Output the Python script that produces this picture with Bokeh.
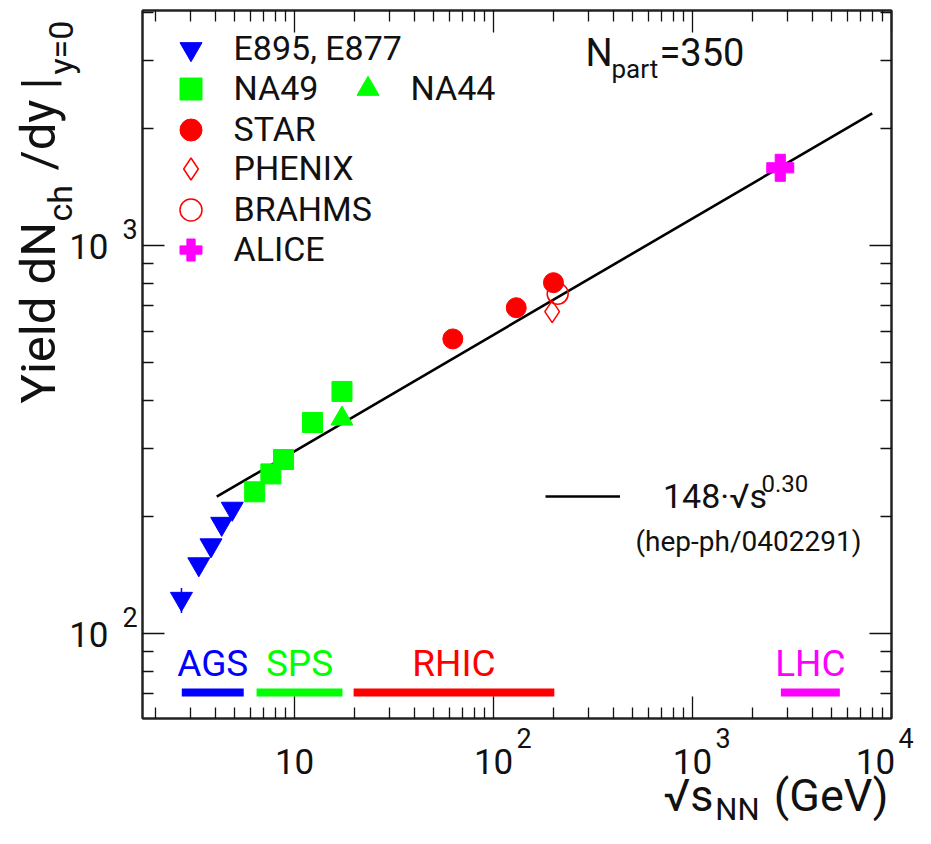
import math
from bokeh.plotting import figure
from bokeh.layouts import row, column
from bokeh.models import (Range1d, FixedTicker, LogAxis, Label, Legend, LegendItem,
                          CustomJSTickFormatter)
from bokeh.embed import file_html
from bokeh.resources import INLINE

# ---------------- data ----------------
e895_sqrt_s = [2.7, 3.3, 3.8, 4.3, 4.86]
e895_yield = [123, 151, 169, 192, 210]
e895_err_x = [2.7]
e895_err_lo = [113]
e895_err_hi = [131]

na49_sqrt_s = [6.3, 7.6, 8.8, 12.3, 17.3]
na49_yield = [232, 258, 281, 350, 421]

na44_sqrt_s = [17.3]
na44_yield = [358]

star_sqrt_s = [62.4, 130, 200]
star_yield = [575, 692, 803]

phenix_sqrt_s = [197]
phenix_yield = [676]

brahms_sqrt_s = [210]
brahms_yield = [752]

alice_sqrt_s = [2760]
alice_yield = [1588]

fit_norm = 148
fit_power = 0.30
fit_sqrt_s = [4.06, 8000]

range_names = ["AGS", "SPS", "RHIC", "LHC"]
range_lo = [2.71, 6.44, 19.8, 2780]
range_hi = [5.55, 17.4, 202, 5500]
range_level = 70.5

x_tick_values = [10, 100, 1000, 10000]
x_tick_exponents = ["", "2", "3", "4"]
y_tick_values = [100, 1000]
y_tick_exponents = ["2", "3"]

X_MIN, X_MAX = 1.72, 10000
Y_MIN, Y_MAX = 60.4, 4040

# ---------------- styles / layout ----------------
BLUE = "#0000ff"
GREEN = "#00ff00"
RED = "#ff0000"
MAGENTA = "#ff00ff"
range_colors = [BLUE, GREEN, RED, MAGENTA]
FONT = "Roboto"
TXT = "#111111"
MID = 0.342          # label anchor sits at the middle of the text box

W, H = 915, 828
FL, FR, FT, FB = 142, 891, 10, 718     # frame edges on the canvas
LS = FL - 2                            # width of the left strip
HB = H - (FB + 2)                      # height of the bottom strip

p = figure(width=W - LS, height=FB + 2, x_axis_type="log", y_axis_type="log",
           x_range=Range1d(X_MIN, X_MAX), y_range=Range1d(Y_MIN, Y_MAX),
           output_backend="svg", toolbar_location=None,
           min_border_left=2, min_border_right=W - FR, min_border_top=FT,
           min_border_bottom=2)
p.xgrid.visible = False
p.ygrid.visible = False
p.outline_line_color = "#222222"
p.outline_line_width = 2

x_minor = [m * 10 ** e for e in range(0, 4) for m in range(2, 10)]
y_minor = [m * 10 ** e for e in range(1, 4) for m in range(2, 10)]


def style_axis(ax, major, minor):
    ax.ticker = FixedTicker(ticks=major, minor_ticks=minor)
    ax.major_tick_in = 22
    ax.major_tick_out = 0
    ax.minor_tick_in = 11
    ax.minor_tick_out = 0
    ax.major_tick_line_color = TXT
    ax.minor_tick_line_color = TXT
    ax.major_tick_line_width = 1.3
    ax.minor_tick_line_width = 1.3
    ax.axis_line_color = "#222222"
    ax.axis_line_width = 2
    ax.formatter = CustomJSTickFormatter(code="return ''")
    ax.major_label_text_font_size = "0px"
    ax.major_label_standoff = 0
    ax.axis_label = None


style_axis(p.xaxis[0], x_tick_values, x_minor)
style_axis(p.yaxis[0], y_tick_values, y_minor)
top_ax = LogAxis()
right_ax = LogAxis()
style_axis(top_ax, x_tick_values, x_minor)
style_axis(right_ax, y_tick_values, y_minor)
p.add_layout(top_ax, "above")
p.add_layout(right_ax, "right")

# ---------------- marks ----------------
fit_yield = [fit_norm * s ** fit_power for s in fit_sqrt_s]
r_fit = p.line(fit_sqrt_s, fit_yield, line_color="black", line_width=2.6)

for lo, hi, c in zip(range_lo, range_hi, range_colors):
    p.segment(x0=[lo], y0=[range_level], x1=[hi], y1=[range_level],
              line_color=c, line_width=8, line_cap="butt")

p.segment(x0=e895_err_x, y0=e895_err_lo, x1=e895_err_x, y1=e895_err_hi,
          line_color=BLUE, line_width=1.5)
r_e895 = p.scatter(e895_sqrt_s, e895_yield, marker="inverted_triangle", size=22, color=BLUE)
r_na49 = p.scatter(na49_sqrt_s, na49_yield, marker="square", size=20, color=GREEN)
r_na44 = p.scatter(na44_sqrt_s, na44_yield, marker="triangle", size=22, color=GREEN)
r_star = p.scatter(star_sqrt_s, star_yield, marker="circle", size=20, color=RED)
r_phenix = p.scatter(phenix_sqrt_s, phenix_yield, marker="diamond", size=22,
                     fill_color=None, line_color=RED, line_width=1.5)
r_brahms = p.scatter(brahms_sqrt_s, brahms_yield, marker="circle", size=21,
                     fill_color=None, line_color=RED, line_width=1.5)
r_alice = p.scatter(alice_sqrt_s, alice_yield, marker="plus", size=27, color=MAGENTA)


# ---------------- legends (one per entry) ----------------
def legend_entry(renderer, text, cx, cy, gw=55, gh=55, standoff=16):
    lg = Legend(items=[LegendItem(label=text, renderers=[renderer])],
                location=(cx - gw / 2 - FL, FB - (cy + gh / 2)),
                glyph_width=gw, glyph_height=gh, label_standoff=standoff,
                padding=0, margin=0, border_line_color=None,
                background_fill_alpha=0, label_text_font=FONT,
                label_text_font_size="34px", label_text_color=TXT)
    p.add_layout(lg)


legend_entry(r_e895, "E895, E877", 190, 48)
legend_entry(r_na49, "NA49", 190, 88)
legend_entry(r_na44, "NA44", 367, 88)
legend_entry(r_star, "STAR", 190, 129)
legend_entry(r_phenix, "PHENIX", 190, 168)
legend_entry(r_brahms, "BRAHMS", 190, 209)
legend_entry(r_alice, "ALICE", 190, 249)
legend_entry(r_fit, "148\u00b7\u221as", 582.5, 496, gw=75, gh=40, standoff=43)


# ---------------- text helper ----------------
def lab(fig, text, x, y, size, color=TXT, align="left", angle=0.0,
        x_units="screen", y_units="screen", x_offset=0, y_offset=0):
    fig.add_layout(Label(text=text, x=x, y=y, x_units=x_units, y_units=y_units,
                         x_offset=x_offset, y_offset=y_offset, angle=angle,
                         text_font=FONT, text_font_size=f"{size}px",
                         text_color=color, text_align=align,
                         text_baseline="alphabetic"))


# texts inside the frame (baseline positions on canvas -> frame screen units)
def in_frame(text, x_px, base_px, size, **kw):
    lab(p, text, x_px - FL, FB - base_px + MID * size, size, **kw)


in_frame("0.30", 761, 491, 24)
in_frame("(hep-ph/0402291)", 635, 551, 28)
in_frame("N", 585, 65, 38)
in_frame("part", 611, 77, 26)
in_frame("=350", 659, 65, 38)

for name, lo, hi, c in zip(range_names, range_lo, range_hi, range_colors):
    lab(p, name, math.sqrt(lo * hi), FB - 676 + MID * 37, 37, color=c,
        align="center", x_units="data")

# ---------------- left strip: y tick labels and y title ----------------
left = figure(width=LS, height=FB + 2, y_axis_type="log",
              x_range=Range1d(0, LS), y_range=Range1d(Y_MIN, Y_MAX),
              x_axis_location=None, y_axis_location=None,
              output_backend="svg", toolbar_location=None,
              min_border_left=0, min_border_right=0, min_border_top=FT,
              min_border_bottom=2, outline_line_color=None)
left.grid.visible = False

for v, ex in zip(y_tick_values, y_tick_exponents):
    lab(left, "10", 108, v, 35, align="right", y_units="data",
        y_offset=-13 + MID * 35)
    lab(left, ex, 122, v, 27, y_units="data", y_offset=7 + MID * 27)

up = math.pi / 2


def ytitle(text, base_x, start_y, size):
    lab(left, text, base_x - MID * size, FB - start_y, size, angle=up)


ytitle("Yield dN", 55, 403, 49)
ytitle("ch", 71, 221, 34)
ytitle("/dy", 55, 170, 49)
ytitle("|", 55, 89, 49)
ytitle("y=0", 72, 74, 34)

# ---------------- bottom strip: x tick labels and x title ----------------
ppd = (FR - FL) / (math.log10(X_MAX) - math.log10(X_MIN))
bx0 = 10 ** (math.log10(X_MIN) - FL / ppd)
bx1 = 10 ** (math.log10(X_MAX) + (W - FR) / ppd)
bottom = figure(width=W, height=HB, x_axis_type="log",
                x_range=Range1d(bx0, bx1), y_range=Range1d(0, HB),
                x_axis_location=None, y_axis_location=None,
                output_backend="svg", toolbar_location=None,
                min_border=0, outline_line_color=None)
bottom.grid.visible = False


def below(text, x, base_px, size, x_units="screen", **kw):
    lab(bottom, text, x, H - base_px + MID * size, size, x_units=x_units, **kw)


for v, ex in zip(x_tick_values, x_tick_exponents):
    shift = -16 if v == x_tick_values[-1] else 0
    below("10", v, 773, 35, x_units="data", align="center", x_offset=shift)
    if ex:
        below(ex, v, 747, 27, x_units="data", x_offset=23 + shift)

below("(GeV)", 888, 810, 45, align="right")
below("NN", 759, 820, 31, align="right")
below("\u221as", 713, 810, 45, align="right")

layout = column(row(left, p), bottom)
open("out.html", "w").write(file_html(layout, INLINE))
